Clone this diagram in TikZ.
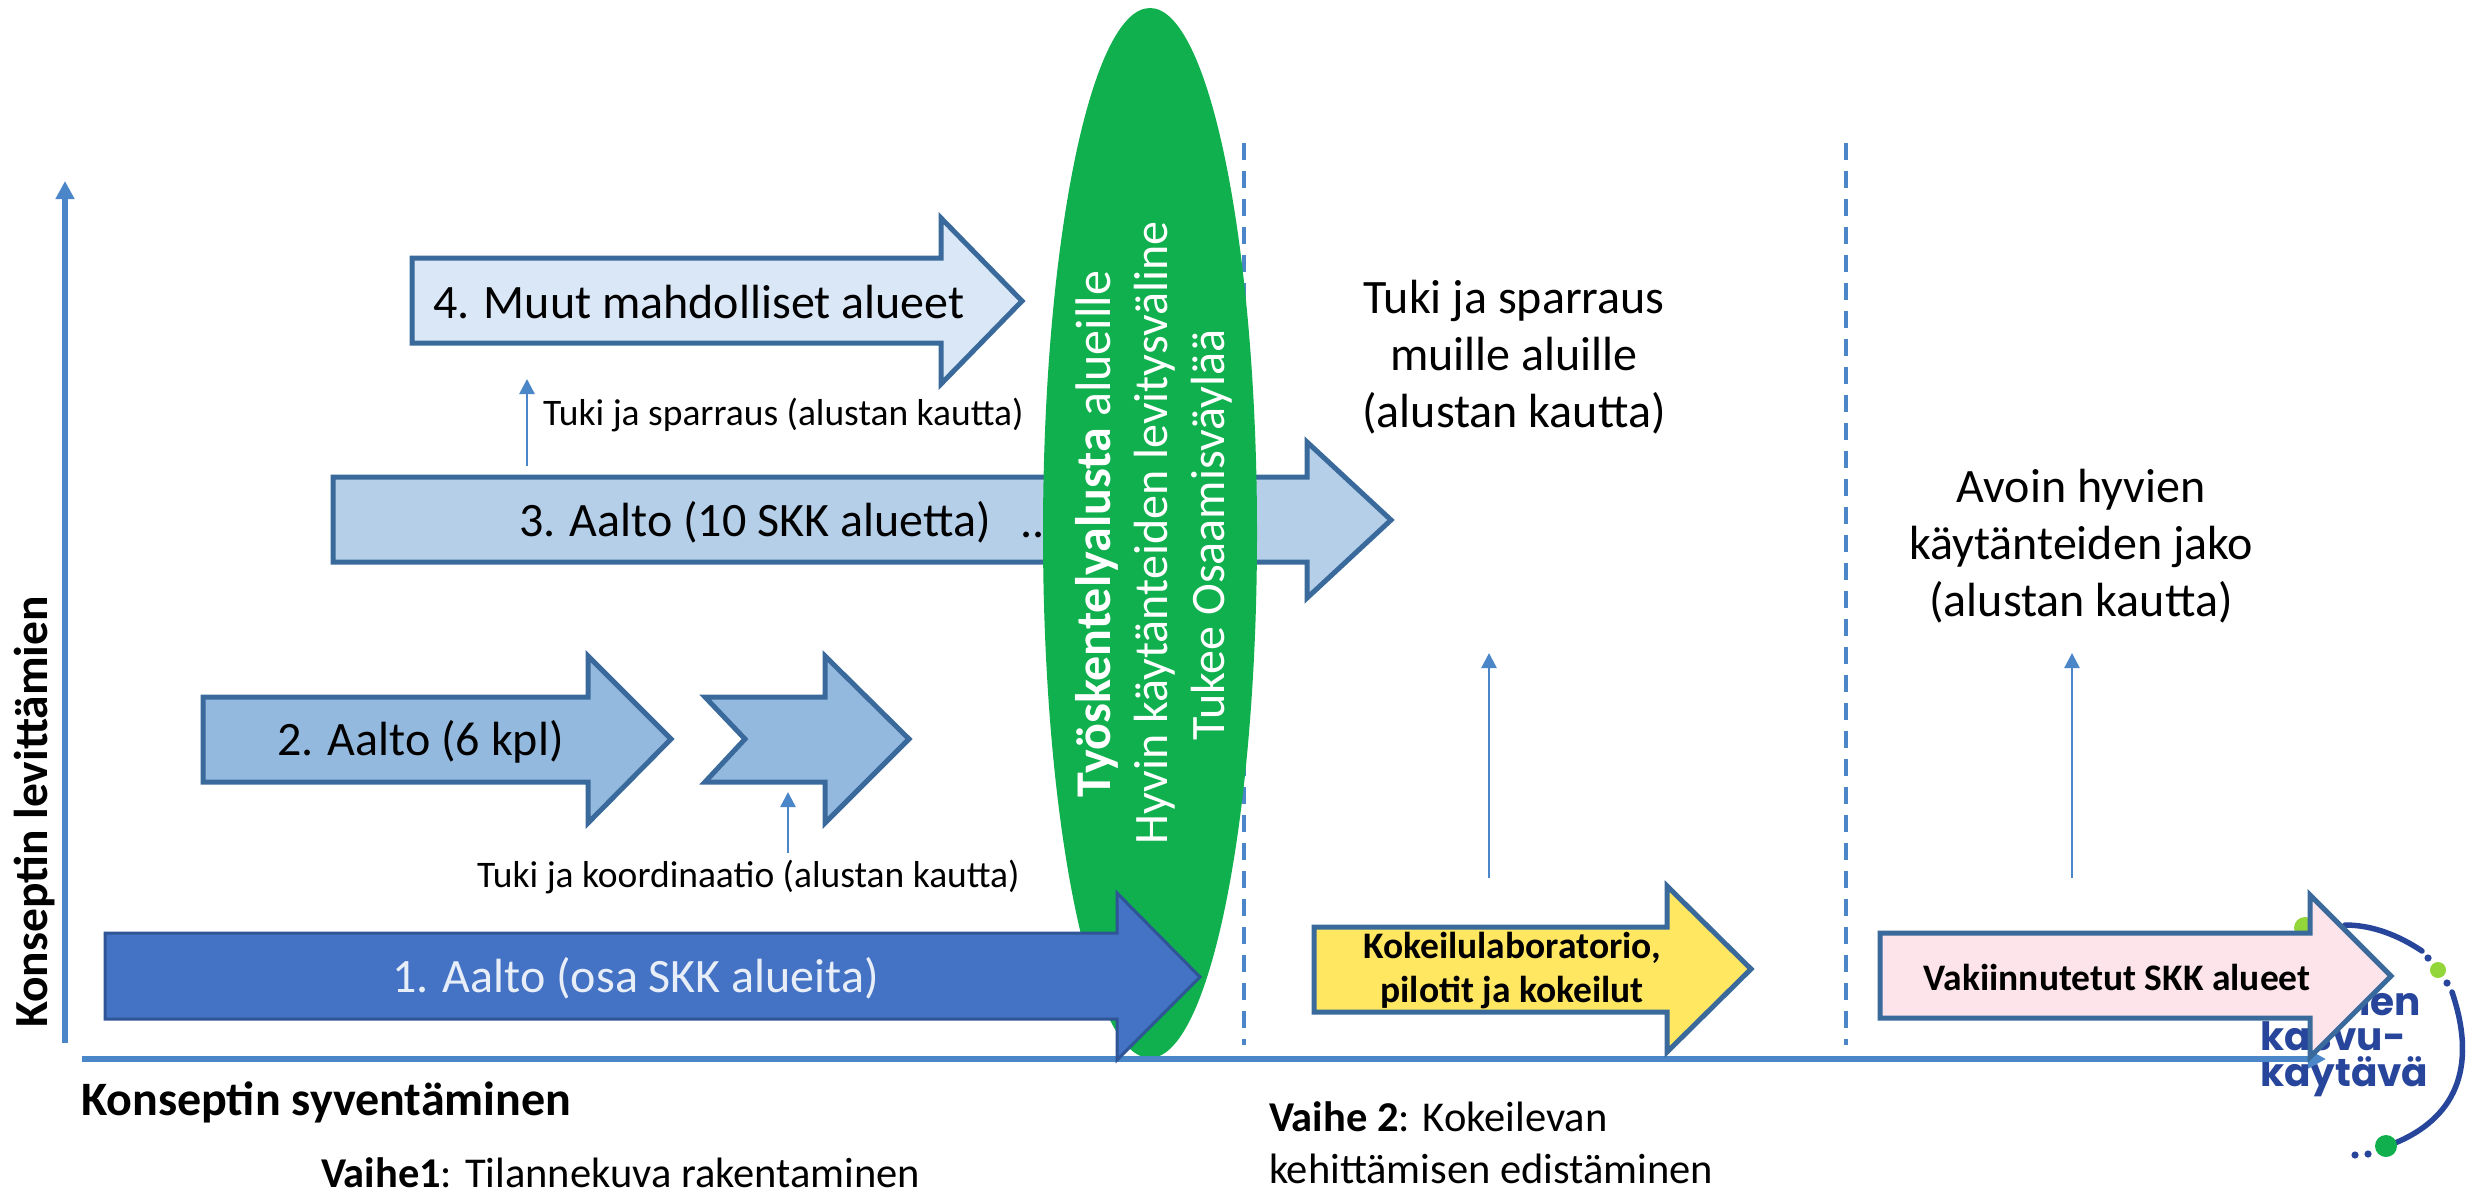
\documentclass[tikz,border=0pt]{standalone}
\usepackage{fontspec}
\setmainfont{Carlito}
\newfontfamily\logofont{Poppins}
\usetikzlibrary{arrows.meta,shapes.geometric}
\definecolor{axisblue}{HTML}{4A86C8}
\definecolor{edgeblue}{HTML}{3A6A9B}
\definecolor{greenell}{HTML}{0FB04D}
\definecolor{fillA}{HTML}{4472C4}
\definecolor{edgeA}{HTML}{2F5597}
\definecolor{fillB}{HTML}{94B9DF}
\definecolor{fillC}{HTML}{B5CFE9}
\definecolor{fillD}{HTML}{DAE7F6}
\definecolor{fillY}{HTML}{FFE761}
\definecolor{fillP}{HTML}{FDE4EA}
\definecolor{logoblue}{HTML}{27459B}
\definecolor{logolime}{HTML}{92D63A}
\definecolor{paletext}{HTML}{E8EEF8}
\tikzset{
  blockarrow/.style={line width=5pt,draw=edgeblue,miter limit=10,line join=miter},
  axisline/.style={draw=axisblue,line width=5.5pt,-{Triangle[length=18pt,width=18pt]}},
  smallup/.style={draw=axisblue,line width=2.5pt,-{Triangle[length=15pt,width=15pt]}},
  divider/.style={draw=axisblue,line width=3.5pt,dash pattern=on 17pt off 11pt},
  lbl/.style={inner sep=0pt,outer sep=0pt,align=center},
  lbll/.style={inner sep=0pt,outer sep=0pt,align=left,anchor=west},
  ellt/.style={inner sep=0pt,outer sep=0pt,rotate=90,anchor=base,text=white,font=\fontsize{48}{57}\selectfont},
  big/.style={font=\fontsize{48}{57}\selectfont},
  small/.style={font=\fontsize{37.5}{44}\selectfont},
  boxt/.style={font=\fontsize{37.5}{44}\selectfont\bfseries},
  logotxt/.style={inner sep=0pt,outer sep=0pt,anchor=base west,text=logoblue,font=\fontsize{39}{39}\selectfont\logofont\bfseries},
  logodot/.style={fill=logoblue,draw=none},
  logoline/.style={draw=logoblue,line width=5.5pt,line cap=round}
}
% left, notch depth, shaft top, shaft bottom, head x, head top, head bottom, tip, mid
\newcommand{\blockarr}[9]{(#1,#3) -- (#5,#3) -- (#5,#6) -- (#8,#9) -- (#5,#7) -- (#5,#4) -- (#1,#4) -- (#1+#2,#9) -- cycle}
\begin{document}
\begin{tikzpicture}[x=1pt,y=-1pt]
\useasboundingbox (0,0) rectangle (2478,1195);
\fill[white] (0,0) rectangle (2478,1195);

% logo behind the last arrow
\fill[logolime] (2305,928) circle (11);
\draw[logoline] (2345,925) .. controls (2372,925) and (2398,935) .. (2422,951);
\fill[logodot] (2428,958) circle (3.6);
\fill[logolime] (2438,970) circle (8);
\fill[logodot] (2447,983) circle (3.6);
\draw[logoline] (2452,992) .. controls (2475,1060) and (2462,1115) .. (2395,1143);
\fill[greenell] (2386,1146) circle (11);
\fill[logodot] (2368,1154) circle (3.6);
\fill[logodot] (2355,1155) circle (3.6);
\node[logotxt] (logoA) at (2254,1015) {Suomen};
\node[logotxt] (logoB) at (2260,1050) {kasvu-};
\node[logotxt] (logoC) at (2260,1086) {käytävä};

% arrows behind the ellipse
\draw[blockarrow,fill=fillD] \blockarr{412}{0}{258}{343}{941}{218}{384}{1022}{301};
\draw[blockarrow,fill=fillC] \blockarr{333}{0}{477}{562}{1307}{442}{598}{1391}{520};
\draw[blockarrow,fill=fillB] \blockarr{203}{0}{697}{782}{588}{656}{823}{671}{739};
\draw[blockarrow,fill=fillB] \blockarr{705}{40}{697}{782}{825}{656}{823}{909}{739};
\node[lbl,font=\fontsize{48}{57}\selectfont] (dots) at (1033,535) {..};

% dividers, behind the ellipse
\coordinate (d1t) at (1244,143);
\coordinate (d1b) at (1244,1045);
\coordinate (d2t) at (1846,143);
\coordinate (d2b) at (1846,1045);
\draw[divider] (d1t) -- (d1b);
\draw[divider] (d2t) -- (d2b);

% ellipse
\node[fill=greenell,draw=none,ellipse,minimum width=214pt,minimum height=1050pt,inner sep=0pt] (ell) at (1150,533) {};
\node[ellt,font=\fontsize{50}{57}\selectfont] (ellA) at (1110,534) {\textbf{Työskentelyalusta} alueille};
\node[ellt] (ellB) at (1167,533) {Hyvin käytänteiden levitysväline};
\node[ellt] (ellC) at (1224,535) {Tukee Osaamisväylää};

% axes
\coordinate (ybot) at (65,1043);
\coordinate (ytop) at (65,181);
\coordinate (xbeg) at (82,1059);
\coordinate (xend) at (2326,1059);
\draw[axisline] (ybot) -- (ytop);
\draw[axisline] (xbeg) -- (xend);

% front arrows
\draw[line width=3pt,draw=edgeA,fill=fillA,miter limit=10] \blockarr{105}{0}{933}{1019}{1117}{893}{1060}{1200}{977};
\draw[blockarrow,fill=fillY] \blockarr{1314}{0}{927}{1012}{1667}{886}{1052}{1751}{969};
\draw[blockarrow,fill=fillP] \blockarr{1880}{0}{933}{1018}{2310}{895}{1057}{2391}{976};

% small arrows
\coordinate (s4a) at (527,466);  \coordinate (s4b) at (527,379);
\coordinate (s2a) at (788,853);  \coordinate (s2b) at (788,792);
\coordinate (s5a) at (1489,878); \coordinate (s5b) at (1489,653);
\coordinate (s6a) at (2072,878); \coordinate (s6b) at (2072,653);
\draw[smallup] (s4a) -- (s4b);
\draw[smallup] (s2a) -- (s2b);
\draw[smallup] (s5a) -- (s5b);
\draw[smallup] (s6a) -- (s6b);

% texts
\node[lbll,big] (t4) at (433,302) {4. Muut mahdolliset alueet};
\node[lbll,small] (t4s) at (543,415) {Tuki ja sparraus (alustan kautta)};
\node[lbll,big] (t3) at (519,522) {3. Aalto (10 SKK aluetta)};
\node[lbll,big] (t2) at (277,742) {2. Aalto (6 kpl)};
\node[lbll,small] (t2s) at (477,877) {Tuki ja koordinaatio (alustan kautta)};
\node[lbll,big,text=paletext] (t1) at (392,978) {1. Aalto (osa SKK alueita)};
\node[lbl,big] (r1) at (1514,357) {Tuki ja sparraus\\muille aluille\\(alustan kautta)};
\node[lbl,big] (r2) at (2081,546) {Avoin hyvien\\käytänteiden jako\\(alustan kautta)};
\node[lbl,boxt] (ty) at (1512,970) {Kokeilulaboratorio,\\pilotit ja kokeilut};
\node[lbl,boxt] (tp) at (2117,977) {Vakiinnutetut SKK alueet};
\node[inner sep=0pt,outer sep=0pt,rotate=90,anchor=base,font=\fontsize{47.5}{52}\selectfont\bfseries] (ylab) at (47,812) {Konseptin levittämien};
\node[lbll,font=\fontsize{48}{56}\selectfont\bfseries] (xlab) at (81,1102) {Konseptin syventäminen};
\node[lbll,font=\fontsize{42.5}{52}\selectfont] (v1) at (321,1173) {\textbf{Vaihe1}: Tilannekuva rakentaminen};
\node[lbl,anchor=north west,align=left,font=\fontsize{42.5}{52}\selectfont] (v2) at (1269,1102) {\textbf{Vaihe 2}: Kokeilevan\\kehittämisen edistäminen};
\end{tikzpicture}
\end{document}
